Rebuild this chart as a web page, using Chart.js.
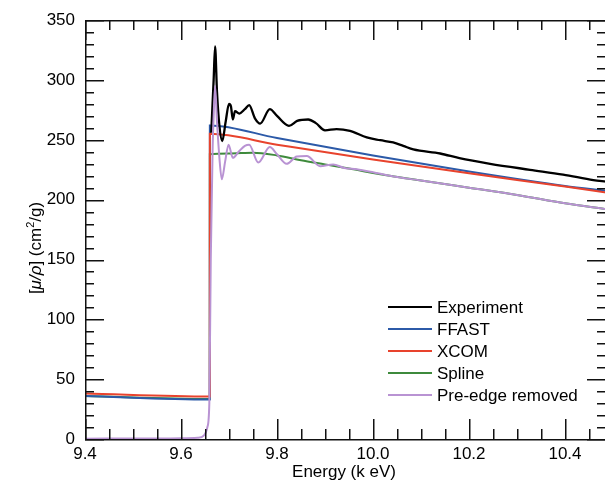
<!DOCTYPE html>
<html>
<head>
<meta charset="utf-8">
<script src="https://cdn.jsdelivr.net/npm/chart.js@4/dist/chart.umd.min.js"></script>
<style>
  html, body { margin: 0; padding: 0; background: #fff; overflow: hidden; }
  #wrap { width: 610px; height: 480px; }
</style>
</head>
<body>
<div id="wrap"><canvas id="muChart" width="610" height="480"></canvas></div>
<script>
// tick labels
var xTicks = [9.4, 9.6, 9.8, 10.0, 10.2, 10.4];
var yTicks = [0, 50, 100, 150, 200, 250, 300, 350];

// series names (legend order)
var seriesNames = ['Experiment', 'FFAST', 'XCOM', 'Spline', 'Pre-edge removed'];

// Experiment
var expE  = [9.663, 9.668, 9.671, 9.675, 9.68, 9.686, 9.693, 9.70, 9.704, 9.708, 9.7125, 9.7215, 9.733, 9.742, 9.754, 9.765, 9.785, 9.80, 9.825, 9.842, 9.865, 9.881, 9.90, 9.924, 9.952, 9.987, 10.015, 10.042, 10.063, 10.084, 10.14, 10.18, 10.244, 10.327, 10.396, 10.459, 10.486];
var expMu = [256, 300, 328, 290, 262, 249, 265, 280, 278, 267, 274, 272, 275.6, 279, 268, 263.6, 275.6, 270, 261.7, 265.8, 267, 264, 258, 259, 257.5, 252, 249.7, 247.8, 245, 242, 238.6, 234.7, 230, 225, 221, 216.4, 215];

// FFAST
var ffastE  = [9.4, 9.66, 9.6601, 9.8, 10.0, 10.2, 10.4, 10.486];
var ffastMu = [36, 33, 262, 251.5, 237, 223.5, 211.5, 207.5];

// XCOM
var xcomE  = [9.4, 9.66, 9.6601, 9.8, 10.0, 10.2, 10.4, 10.486];
var xcomMu = [38, 35.5, 255, 246, 233.5, 222, 211, 206];

// Spline
var splE  = [9.4, 9.66, 9.6601, 9.70, 9.75, 9.80, 9.85, 9.90, 9.95, 10.035, 10.1, 10.2, 10.3, 10.4, 10.486];
var splMu = [36, 33.5, 238, 238.6, 239.3, 237, 233, 229.5, 226, 220, 216, 210, 204, 197, 192];

// Pre-edge removed
var preE  = [9.4, 9.55, 9.6, 9.635, 9.648, 9.655, 9.659, 9.662, 9.666, 9.668, 9.671, 9.675, 9.68, 9.685, 9.692, 9.699, 9.708, 9.72, 9.733, 9.742, 9.761, 9.785, 9.80, 9.82, 9.841, 9.862, 9.89, 9.917, 9.94, 9.966, 10.0, 10.035, 10.1, 10.2, 10.3, 10.4, 10.486];
var preMu = [0.3, 0.4, 0.6, 1, 3, 10, 30, 150, 245, 270, 295, 265, 235, 217, 232, 246, 235, 240, 245, 246, 231, 244, 238, 230, 236, 236.5, 228, 229.5, 226.5, 225.5, 223, 220, 216, 210, 204, 197, 192];

var colors = ['#000000', '#2c5aa8', '#e8432d', '#3e8a3c', '#b993d3'];

function pts(xs, ys) {
  return xs.map(function (x, i) { return { x: x, y: ys[i] }; });
}

var FONT = '"Liberation Sans", Arial, Helvetica, sans-serif';

// inward ticks, frame, axis titles and legend
var decorations = {
  id: 'decorations',
  afterDraw: function (chart) {
    var c = chart.ctx, a = chart.chartArea;
    var xs = chart.scales.x, ys = chart.scales.y;
    var L = Math.round(a.left), R = Math.round(a.right), T = Math.round(a.top), B = Math.round(a.bottom);
    c.save();
    c.fillStyle = '#111';
    // frame
    c.fillRect(L, T, R - L, 1.5);
    c.fillRect(L, B, R - L, 1.5);
    c.fillRect(L, T, 1.5, B - T + 1);
    c.fillRect(R, T, 1.5, B - T + 1);

    // x ticks (minor every 0.05, major every 0.2)
    for (var k = 0; k <= 22; k++) {
      var v = 9.4 + k * 0.05;
      var px = Math.round(xs.getPixelForValue(v));
      var len = (k % 4 === 0) ? 20 : 10;
      c.fillRect(px, B - len, 1.5, len);
      c.fillRect(px, T, 1.5, len);
    }
    // y ticks (minor every 10, major every 50)
    for (var j = 0; j <= 35; j++) {
      var py = Math.round(ys.getPixelForValue(j * 10));
      var l2 = (j % 5 === 0) ? 19 : 9;
      c.fillRect(L, py, l2, 1.5);
      c.fillRect(R - l2, py, l2, 1.5);
    }

    // x title
    c.fillStyle = '#000';
    c.font = '17px ' + FONT;
    c.textAlign = 'center';
    c.textBaseline = 'alphabetic';
    c.fillText('Energy (k eV)', 344, 477);

    // y title, rotated
    c.save();
    c.translate(35, 248);
    c.rotate(-Math.PI / 2);
    var parts = [
      ['[', '17px ' + FONT, 0],
      ['\u03bc/\u03c1', 'italic 17px ' + FONT, 0],
      ['] (cm', '17px ' + FONT, 0],
      ['2', '11px ' + FONT, -7],
      ['/g)', '17px ' + FONT, 0]
    ];
    var total = 0;
    parts.forEach(function (p) { c.font = p[1]; total += c.measureText(p[0]).width; });
    var cx = -total / 2;
    c.textAlign = 'left';
    parts.forEach(function (p) {
      c.font = p[1];
      c.fillText(p[0], cx, 6 + p[2]);
      cx += c.measureText(p[0]).width;
    });
    c.restore();

    // legend
    c.font = '17px ' + FONT;
    c.textAlign = 'left';
    c.textBaseline = 'middle';
    seriesNames.forEach(function (name, i) {
      var y = 307 + i * 22;
      c.strokeStyle = colors[i];
      c.lineWidth = 2;
      c.beginPath();
      c.moveTo(388, y); c.lineTo(432, y);
      c.stroke();
      c.fillStyle = '#000';
      c.fillText(name, 437, y + 1);
    });
    c.restore();
  }
};

var allE = [expE, ffastE, xcomE, splE, preE];
var allMu = [expMu, ffastMu, xcomMu, splMu, preMu];
var drawOrder = [1, 3, 2, 4, 0];

var ctx = document.getElementById('muChart').getContext('2d');
var muChart = new Chart(ctx, {
  type: 'line',
  data: {
    datasets: seriesNames.map(function (name, i) {
      return {
        label: name,
        data: pts(allE[i], allMu[i]),
        borderColor: colors[i],
        borderWidth: i === 0 ? 2.3 : 2,
        pointRadius: 0,
        fill: false,
        cubicInterpolationMode: 'monotone',
        order: drawOrder[i]
      };
    })
  },
  options: {
    responsive: false,
    animation: false,
    devicePixelRatio: 1,
    layout: { padding: { top: 18, right: 4, left: 0, bottom: 0 } },
    plugins: {
      legend: { display: false },
      tooltip: { enabled: false }
    },
    scales: {
      x: {
        type: 'linear',
        min: 9.4,
        max: 10.4854,
        grid: { display: false, drawTicks: false },
        border: { display: false },
        afterBuildTicks: function (s) { s.ticks = xTicks.map(function (v) { return { value: v }; }); },
        afterFit: function (s) { s.height = 41; },
        ticks: {
          autoSkip: false,
          maxRotation: 0,
          padding: 5,
          color: '#000',
          font: { size: 17, family: FONT },
          callback: function (v) { return v.toFixed(1); }
        }
      },
      y: {
        type: 'linear',
        min: 0,
        max: 350,
        grid: { display: false, drawTicks: false },
        border: { display: false },
        afterBuildTicks: function (s) { s.ticks = yTicks.map(function (v) { return { value: v }; }); },
        afterFit: function (s) { s.width = 85; },
        ticks: {
          padding: 10,
          color: '#000',
          font: { size: 17, family: FONT }
        }
      }
    }
  },
  plugins: [decorations]
});
</script>
</body>
</html>
